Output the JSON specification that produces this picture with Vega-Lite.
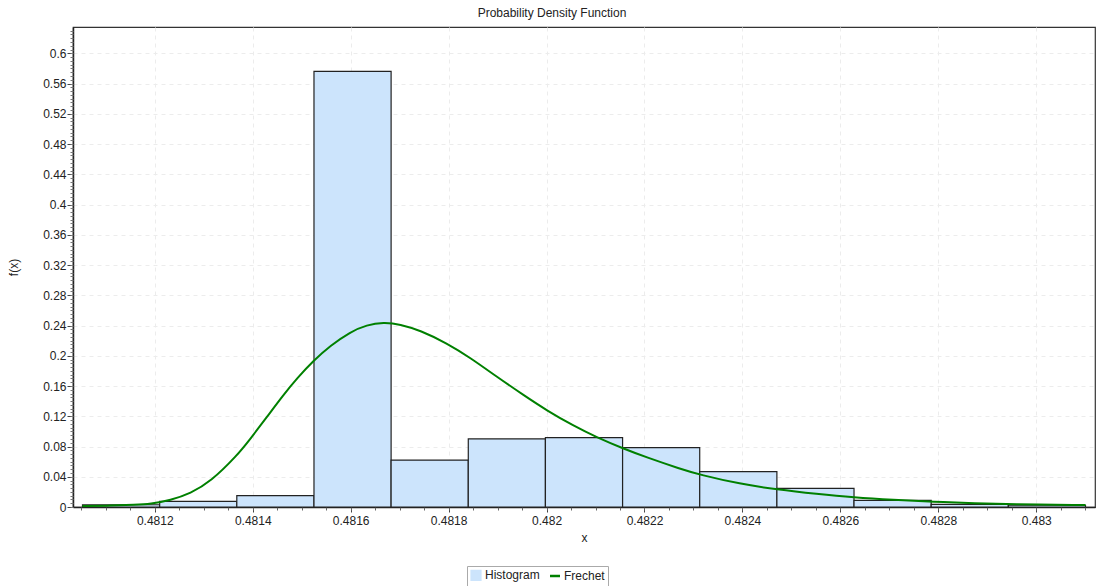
{
  "$schema": "https://vega.github.io/schema/vega-lite/v6.json",
  "width": 1022,
  "height": 480,
  "autosize": {"type": "none"},
  "padding": {"left": 73, "top": 27, "right": 3, "bottom": 79},
  "background": "white",
  "config": {
    "font": "Liberation Sans",
    "view": {"stroke": "#333", "strokeWidth": 1.2},
    "axis": {"labelFont": "Liberation Sans", "titleFont": "Liberation Sans", "labelColor": "#222", "titleColor": "#222", "labelFontSize": 12, "titleFontSize": 12, "titleFontWeight": "normal"},
    "legend": {"orient": "none", "legendX": 394, "legendY": 539, "direction": "horizontal", "title": null,
      "strokeColor": "#aaa", "padding": 3, "labelFontSize": 12, "labelFont": "Liberation Sans", "labelColor": "#222",
      "symbolSize": 100, "labelOffset": 3, "columnPadding": 5, "symbolStrokeWidth": 1.2, "symbolStrokeColor": "#111111"}
  },
  "title": {"text": "Probability Density Function", "fontSize": 12, "fontWeight": "normal", "font": "Liberation Sans", "color": "#222", "anchor": "middle", "frame": "group", "dx": -32, "offset": 7},
  "datasets": {
    "bins": [
      {"start": 0.4810524, "end": 0.48121, "f": 0.003, "series": "Histogram"},
      {"start": 0.48121, "end": 0.4813675, "f": 0.0075, "series": "Histogram"},
      {"start": 0.4813675, "end": 0.4815251, "f": 0.015, "series": "Histogram"},
      {"start": 0.4815251, "end": 0.4816826, "f": 0.576, "series": "Histogram"},
      {"start": 0.4816826, "end": 0.4818402, "f": 0.062, "series": "Histogram"},
      {"start": 0.4818402, "end": 0.4819977, "f": 0.090, "series": "Histogram"},
      {"start": 0.4819977, "end": 0.4821553, "f": 0.0917, "series": "Histogram"},
      {"start": 0.4821553, "end": 0.4823128, "f": 0.0785, "series": "Histogram"},
      {"start": 0.4823128, "end": 0.4824704, "f": 0.0467, "series": "Histogram"},
      {"start": 0.4824704, "end": 0.4826279, "f": 0.0247, "series": "Histogram"},
      {"start": 0.4826279, "end": 0.4827855, "f": 0.0088, "series": "Histogram"},
      {"start": 0.4827855, "end": 0.482943, "f": 0.0035, "series": "Histogram"},
      {"start": 0.482943, "end": 0.4831006, "f": 0.0023, "series": "Histogram"}
    ],
    "curve": [
      {"x": 0.4810524, "f": 0.0012, "series": "Frechet"},
      {"x": 0.481110, "f": 0.0018, "series": "Frechet"},
      {"x": 0.481160, "f": 0.0028, "series": "Frechet"},
      {"x": 0.4811912, "f": 0.004, "series": "Frechet"},
      {"x": 0.481232, "f": 0.009, "series": "Frechet"},
      {"x": 0.481273, "f": 0.018, "series": "Frechet"},
      {"x": 0.481314, "f": 0.0335, "series": "Frechet"},
      {"x": 0.481368, "f": 0.068, "series": "Frechet"},
      {"x": 0.481395, "f": 0.090, "series": "Frechet"},
      {"x": 0.481429, "f": 0.119, "series": "Frechet"},
      {"x": 0.481463, "f": 0.1485, "series": "Frechet"},
      {"x": 0.481491, "f": 0.1705, "series": "Frechet"},
      {"x": 0.481524, "f": 0.1935, "series": "Frechet"},
      {"x": 0.481559, "f": 0.2135, "series": "Frechet"},
      {"x": 0.481599, "f": 0.2315, "series": "Frechet"},
      {"x": 0.481633, "f": 0.2408, "series": "Frechet"},
      {"x": 0.481667, "f": 0.2442, "series": "Frechet"},
      {"x": 0.481701, "f": 0.2418, "series": "Frechet"},
      {"x": 0.481742, "f": 0.2335, "series": "Frechet"},
      {"x": 0.481797, "f": 0.2165, "series": "Frechet"},
      {"x": 0.481844, "f": 0.1975, "series": "Frechet"},
      {"x": 0.481899, "f": 0.172, "series": "Frechet"},
      {"x": 0.481953, "f": 0.148, "series": "Frechet"},
      {"x": 0.482001, "f": 0.1275, "series": "Frechet"},
      {"x": 0.482055, "f": 0.1075, "series": "Frechet"},
      {"x": 0.482103, "f": 0.092, "series": "Frechet"},
      {"x": 0.482157, "f": 0.0772, "series": "Frechet"},
      {"x": 0.482205, "f": 0.0655, "series": "Frechet"},
      {"x": 0.482273, "f": 0.0505, "series": "Frechet"},
      {"x": 0.482314, "f": 0.0425, "series": "Frechet"},
      {"x": 0.482395, "f": 0.0305, "series": "Frechet"},
      {"x": 0.482470, "f": 0.0232, "series": "Frechet"},
      {"x": 0.482552, "f": 0.0172, "series": "Frechet"},
      {"x": 0.482627, "f": 0.0125, "series": "Frechet"},
      {"x": 0.482708, "f": 0.0093, "series": "Frechet"},
      {"x": 0.482790, "f": 0.007, "series": "Frechet"},
      {"x": 0.482878, "f": 0.0049, "series": "Frechet"},
      {"x": 0.482946, "f": 0.0036, "series": "Frechet"},
      {"x": 0.4831006, "f": 0.0026, "series": "Frechet"}
    ]
  },
  "layer": [
    {
      "data": {"name": "bins"},
      "mark": {"type": "bar", "stroke": "#222", "strokeWidth": 1.2, "fillOpacity": 1},
      "encoding": {
        "x": {"field": "start", "type": "quantitative",
          "scale": {"domain": [0.481033, 0.48312], "nice": false, "zero": false},
          "axis": {"orient": "bottom", "title": "x", "values": [0.4812, 0.4814, 0.4816, 0.4818, 0.482, 0.4822, 0.4824, 0.4826, 0.4828, 0.483], "format": ".4~f", "grid": true, "gridDash": [4, 4], "gridColor": "#ececec", "tickSize": 5, "tickColor": "#444", "domainColor": "#222", "domainWidth": 1.5, "labelPadding": 3, "titlePadding": 6, "labelFlush": false}},
        "x2": {"field": "end"},
        "y": {"field": "f", "type": "quantitative",
          "scale": {"domain": [0, 0.6348], "nice": false, "zero": true},
          "axis": {"orient": "left", "title": "f(x)", "values": [0, 0.04, 0.08, 0.12, 0.16, 0.2, 0.24, 0.28, 0.32, 0.36, 0.4, 0.44, 0.48, 0.52, 0.56, 0.6], "format": ".2~f", "grid": true, "gridDash": [4, 4], "gridColor": "#ececec", "tickSize": 6, "tickColor": "#444", "domainColor": "#222", "domainWidth": 1.5, "labelPadding": 1, "titlePadding": 22, "labelFlush": false}},
        "y2": {"datum": 0},
        "color": {"field": "series", "type": "nominal",
          "scale": {"domain": ["Histogram", "Frechet"], "range": ["#cce4fc", "#008000"]},
          "legend": {
            "encode": {"symbols": {"update": {
              "shape": {"signal": "datum.value === 'Frechet' ? 'stroke' : 'square'"},
              "fill": {"signal": "datum.value === 'Frechet' ? 'transparent' : '#cce4fc'"},
              "stroke": {"signal": "datum.value === 'Frechet' ? '#008000' : '#111111'"},
              "strokeWidth": {"signal": "datum.value === 'Frechet' ? 2.5 : 1.2"},
              "strokeOpacity": {"value": 1},
              "fillOpacity": {"value": 1},
              "opacity": {"value": 1}
            }}}}}
      }
    },
    {
      "data": {"name": "curve"},
      "mark": {"type": "line", "strokeWidth": 2, "interpolate": "basis"},
      "encoding": {
        "x": {"field": "x", "type": "quantitative",
          "axis": {"orient": "bottom", "title": null, "labels": false, "grid": false, "domain": false, "tickCount": 42, "tickSize": 3, "tickColor": "#666"}},
        "y": {"field": "f", "type": "quantitative",
          "axis": {"orient": "left", "title": null, "labels": false, "grid": false, "domain": false, "tickCount": 127, "tickSize": 3, "tickColor": "#777"}},
        "color": {"field": "series", "type": "nominal",
          "legend": {
            "encode": {"symbols": {"update": {
              "shape": {"signal": "datum.value === 'Frechet' ? 'stroke' : 'square'"},
              "fill": {"signal": "datum.value === 'Frechet' ? 'transparent' : '#cce4fc'"},
              "stroke": {"signal": "datum.value === 'Frechet' ? '#008000' : '#111111'"},
              "strokeWidth": {"signal": "datum.value === 'Frechet' ? 2.5 : 1.2"},
              "strokeOpacity": {"value": 1},
              "fillOpacity": {"value": 1},
              "opacity": {"value": 1}
            }}}}}
      }
    }
  ],
  "resolve": {"axis": {"x": "independent", "y": "independent"}}
}
